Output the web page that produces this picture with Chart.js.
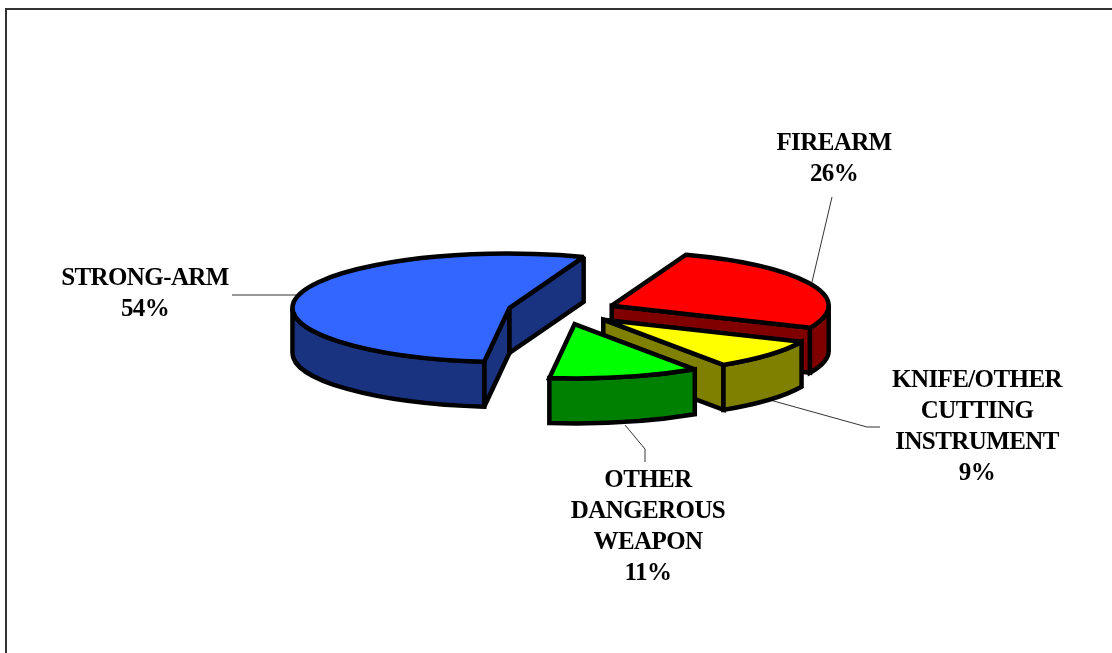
<!DOCTYPE html>
<html>
<head>
<meta charset="utf-8">
<style>
body { margin: 0; background: #fff; }
canvas { display: block; }
</style>
<script src="https://cdn.jsdelivr.net/npm/chart.js@4/dist/chart.umd.min.js"></script>
</head>
<body>
<canvas id="myChart" width="1112" height="653"></canvas>
<script>
const categories = ['FIREARM', 'KNIFE/OTHER CUTTING INSTRUMENT', 'OTHER DANGEROUS WEAPON', 'STRONG-ARM'];
const values = [26.1, 9, 11.2, 53.7];

const topColors = ['#ff0000', '#ffff00', '#00ff00', '#3366ff'];
const sideColors = ['#800000', '#808000', '#008000', '#1a3380'];

// label lines and where they sit, same order as categories
const labelLines = [
    ['FIREARM'],
    ['KNIFE/OTHER', 'CUTTING', 'INSTRUMENT'],
    ['OTHER', 'DANGEROUS', 'WEAPON'],
    ['STRONG-ARM']
];
const labelX = [834, 977, 648, 145];
const labelY = [150, 387, 487, 285];
const leaders = [
    [[812, 282], [832, 197]],
    [[770, 400], [867, 427], [880, 427]],
    [[625, 425], [645, 449], [645, 462]],
    [[232, 295], [296, 295]]
];

const squash = 0.25;
const depth = 45;
const explode = 54;
const lineW = 4.5;
const drawOrder = [3, 0, 1, 2];

function wallPath(ctx, pts) {
    ctx.beginPath();
    pts.forEach((p, i) => i ? ctx.lineTo(p[0], p[1]) : ctx.moveTo(p[0], p[1]));
    ctx.closePath();
}

function paint(ctx, fill) {
    ctx.fillStyle = fill;
    ctx.fill();
    ctx.stroke();
}

function drawSlice(ctx, arc, i) {
    const a = arc.startAngle, b = arc.endAngle, r = arc.outerRadius;
    const mid = (a + b) / 2;
    const ry = r * squash;
    const cx = arc.x + Math.cos(mid) * explode;
    const cy = arc.y + Math.sin(mid) * explode * squash;
    const edge = t => [cx + Math.cos(t) * r, cy + Math.sin(t) * ry];

    ctx.lineWidth = lineW;
    ctx.strokeStyle = '#000';
    ctx.lineJoin = 'miter';
    ctx.miterLimit = 2;

    // cut faces that look at the viewer
    [[a, Math.cos(a) < 0], [b, Math.cos(b) > 0]].forEach(([t, visible]) => {
        if (!visible) return;
        const p = edge(t);
        wallPath(ctx, [[cx, cy], p, [p[0], p[1] + depth], [cx, cy + depth]]);
        paint(ctx, sideColors[i]);
    });

    // front part of the rim
    const lo = Math.max(a, 0), hi = Math.min(b, Math.PI);
    if (hi > lo) {
        ctx.beginPath();
        ctx.ellipse(cx, cy, r, ry, 0, lo, hi);
        ctx.ellipse(cx, cy + depth, r, ry, 0, hi, lo, true);
        ctx.closePath();
        paint(ctx, sideColors[i]);
    }

    // top face, drawn by the arc element itself
    ctx.save();
    ctx.translate(cx - arc.x, cy);
    ctx.scale(1, squash);
    ctx.translate(0, -arc.y);
    arc.draw(ctx);
    ctx.restore();

    ctx.beginPath();
    ctx.moveTo(cx, cy);
    ctx.ellipse(cx, cy, r, ry, 0, a, b);
    ctx.closePath();
    ctx.stroke();
}

const pie3d = {
    id: 'pie3d',
    beforeDatasetDraw(chart) {
        const ctx = chart.ctx;
        ctx.save();
        ctx.strokeStyle = '#333';
        ctx.lineWidth = 1;
        leaders.forEach(l => {
            ctx.beginPath();
            l.forEach((p, i) => i ? ctx.lineTo(p[0], p[1]) : ctx.moveTo(p[0], p[1]));
            ctx.stroke();
        });
        const arcs = chart.getDatasetMeta(0).data;
        drawOrder.forEach(i => drawSlice(ctx, arcs[i], i));
        ctx.restore();
        return false;
    },
    afterDraw(chart) {
        const ctx = chart.ctx;
        ctx.save();
        // frame, right and bottom sides fall outside the picture
        ctx.strokeStyle = '#333';
        ctx.lineWidth = 2;
        ctx.beginPath();
        ctx.moveTo(6, 653);
        ctx.lineTo(6, 9);
        ctx.lineTo(1112, 9);
        ctx.stroke();

        ctx.fillStyle = '#000';
        ctx.font = 'bold 25px "Liberation Serif"';
        ctx.letterSpacing = '-0.6px';
        ctx.textAlign = 'center';
        labelLines.forEach((lines, i) => {
            lines.concat(Math.round(values[i]) + '%').forEach((t, j) => {
                ctx.fillText(t, labelX[i], labelY[i] + j * 31);
            });
        });
        ctx.restore();
    }
};

let myChart = new Chart(document.getElementById('myChart').getContext('2d'), {
    type: 'pie',
    data: {
        labels: categories,
        datasets: [{
            data: values,
            backgroundColor: topColors,
            borderWidth: 0
        }]
    },
    options: {
        responsive: false,
        animation: false,
        events: [],
        rotation: 20,
        radius: 217,
        layout: { padding: { left: 12, bottom: 31 } },
        plugins: { legend: { display: false }, tooltip: { enabled: false } }
    },
    plugins: [pie3d]
});
</script>
</body>
</html>
